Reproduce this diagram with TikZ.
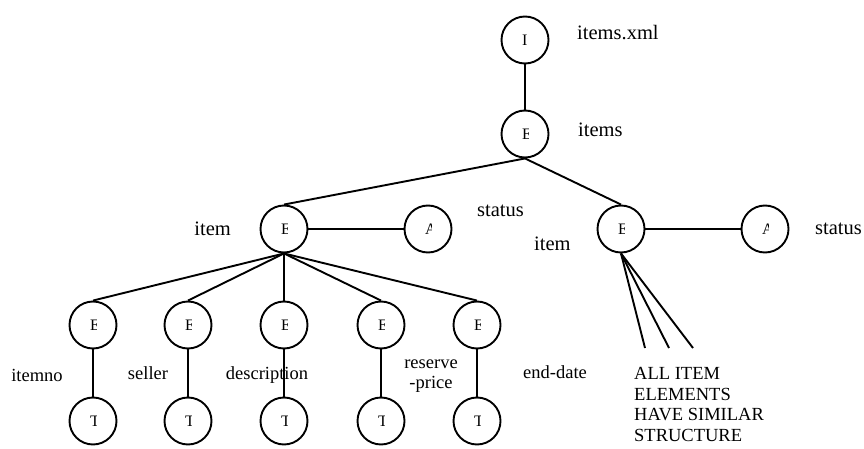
\documentclass[tikz,border=0pt]{standalone}
\usepackage{fontspec}
\setmainfont{Liberation Serif}
\begin{document}
\begin{tikzpicture}[x=1pt,y=-1pt,
  treenode/.style={circle,draw,line width=1.9pt,minimum size=47pt,inner sep=0pt},
  edge/.style={line width=1.9pt},
  glyph/.style={anchor=base west,inner sep=0pt,font=\fontsize{16}{16}\selectfont},
  biglabel/.style={inner sep=0pt,font=\fontsize{20.5}{22}\selectfont},
  label/.style={inner sep=0pt,font=\fontsize{18.5}{20.7}\selectfont},
]
\useasboundingbox (0,0) rectangle (864,449);

% letter inside a node, cut off at its right side
\newcommand\cutletter[2]{%
  \begin{scope}
    \clip ([shift={(-3,-9)}]#1.center) rectangle ([shift={(3,9)}]#1.center);
    \node[glyph] at ([shift={(-3,5.5)}]#1.center) {#2};
  \end{scope}}

% document and root element
\node[treenode] (doc) at (525,40) {};
\node[treenode] (items) at (525,134) {};

% item elements and their status attributes
\node[treenode] (item1) at (284,229) {};
\node[treenode] (stat1) at (428,229) {};
\node[treenode] (item2) at (621,229) {};
\node[treenode] (stat2) at (765,229) {};

% children of the first item
\foreach \n/\x in {1/93,2/188,3/284,4/381,5/477}{
  \node[treenode] (e\n) at (\x,325) {};
  \node[treenode] (t\n) at (\x,421) {};
}

% free ends of the fan below the second item
\coordinate (f1) at (645,348);
\coordinate (f2) at (669,348);
\coordinate (f3) at (693,348);

% letters
\cutletter{doc}{I}
\cutletter{items}{E}
\cutletter{item1}{E}
\cutletter{item2}{E}
\cutletter{stat1}{A}
\cutletter{stat2}{A}
\foreach \n in {1,...,5}{
  \cutletter{e\n}{E}
  \cutletter{t\n}{T}
}

% labels
\node[biglabel,anchor=west] (lxml) at (577,33) {items.xml};
\node[biglabel,anchor=west] (litems) at (578,130) {items};
\node[biglabel,anchor=east] (litem1) at (231,229) {item};
\node[biglabel,anchor=west] (lstat1) at (477,211) {status};
\node[biglabel,anchor=west] (litem2) at (534,244) {item};
\node[biglabel,anchor=west] (lstat2) at (815,229) {status};

\node[label] (l1) at (37,375) {itemno};
\node[label] (l2) at (148,373) {seller};
\node[label] (l3) at (267,375) {description};
\node[label,align=center] (l4) at (431,376) {reserve\\-price};
\node[label] (l5) at (555,372) {end-date};
\node[label,align=left,anchor=north west] (note) at (634,367)
  {ALL ITEM\\ELEMENTS\\HAVE SIMILAR\\STRUCTURE};

% connectors
\draw[edge] (doc) -- (items);
\draw[edge] (items.south) -- (item1.north);
\draw[edge] (items.south) -- (item2.north);
\draw[edge] (item1) -- (stat1);
\draw[edge] (item2) -- (stat2);
\foreach \n in {1,...,5}{
  \draw[edge] (item1.south) -- (e\n.north);
  \draw[edge] (e\n) -- (t\n);
}
\foreach \n in {1,2,3}{
  \draw[edge] (item2.south) -- (f\n);
}
\end{tikzpicture}
\end{document}
